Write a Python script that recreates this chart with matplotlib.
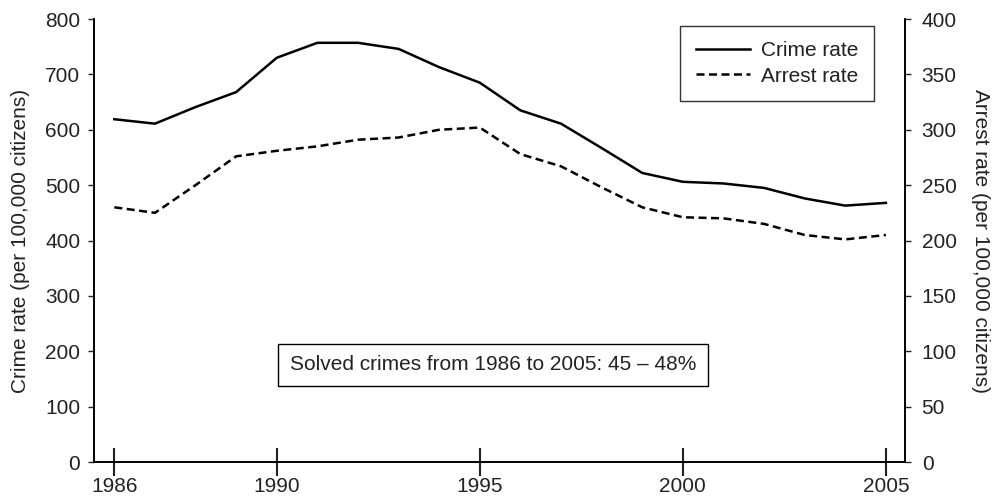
import matplotlib
matplotlib.use("Agg")
import matplotlib.pyplot as plt

plt.rcParams["font.family"] = ["Liberation Sans", "DejaVu Sans"]

years = list(range(1986, 2006))
crime_rate = [619, 611, 641, 668, 730, 757, 757, 746, 713, 685,
              635, 611, 567, 522, 506, 503, 495, 476, 463, 468]
arrest_rate = [230, 225, 250, 276, 281, 285, 291, 293, 300, 302,
               278, 267, 248, 230, 221, 220, 215, 205, 201, 205]
x_ticks = [1986, 1990, 1995, 2000, 2005]
note = "Solved crimes from 1986 to 2005: 45 \u2013 48%"

text_color = "#222222"
fs = 15

fig = plt.figure(figsize=(9.96, 5.04), dpi=100)
ax = fig.add_axes([0.0944, 0.0833, 0.8142, 0.879])
ax2 = ax.twinx()

l1, = ax.plot(years, crime_rate, color="black", lw=1.8, label="Crime rate")
l2, = ax2.plot(years, arrest_rate, color="black", lw=1.8, ls=(0, (3.2, 1.8)),
               label="Arrest rate")

ax.set_xlim(1985.5, 2005.47)
ax.set_ylim(0, 800)
ax2.set_ylim(0, 400)
ax.set_xticks(x_ticks)
ax.set_yticks(range(0, 801, 100))
ax2.set_yticks(range(0, 401, 50))

for a in (ax, ax2):
    a.spines["top"].set_visible(False)
    for s in a.spines.values():
        s.set_linewidth(1.2)
    a.tick_params(axis="y", direction="out", length=4, width=1.0,
                  labelsize=fs, colors=text_color, pad=6)
ax2.tick_params(axis="y", pad=8)
ax.tick_params(axis="x", direction="inout", length=20, width=1.5,
               labelsize=fs, colors=text_color, pad=1)

ax.set_ylabel("Crime rate (per 100,000 citizens)", fontsize=fs,
              color=text_color, labelpad=11)
ax2.set_ylabel("Arrest rate (per 100,000 citizens)", fontsize=fs,
               color=text_color, rotation=270, labelpad=24)

leg = ax.legend(handles=[l1, l2], loc="upper right",
                bbox_to_anchor=(0.962, 0.985), fontsize=fs, frameon=True,
                fancybox=False, edgecolor="black", handlelength=2.6,
                handletextpad=0.55, borderpad=0.75, labelspacing=0.3,
                borderaxespad=0)
leg.get_frame().set_linewidth(1.0)
for t in leg.get_texts():
    t.set_color(text_color)

ax.text(0.492, 0.219, note, transform=ax.transAxes, ha="center", va="center",
        fontsize=fs, color=text_color,
        bbox=dict(boxstyle="square,pad=0.55", facecolor="white",
                  edgecolor="black", linewidth=1.0))

fig.savefig("out.png", dpi=100)
